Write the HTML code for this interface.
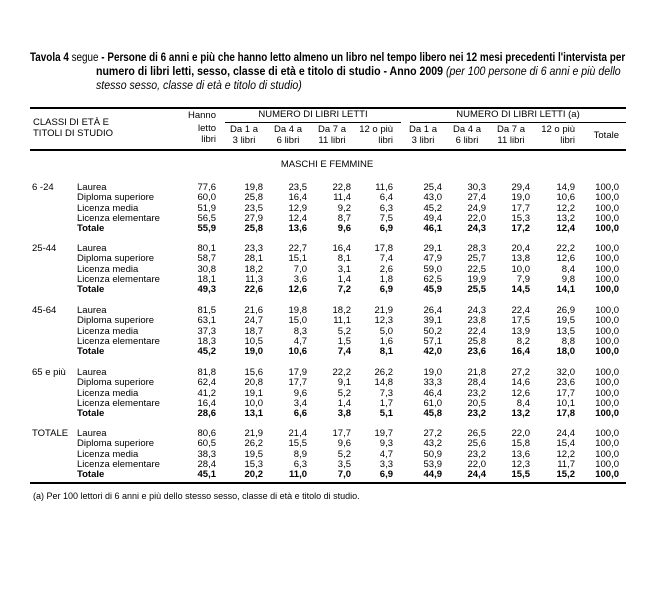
<!DOCTYPE html>
<html><head><meta charset="utf-8"><style>
body{margin:0;background:#fff;width:658px;height:614px;position:relative;font-family:"Liberation Sans",Arial,sans-serif;color:#000;overflow:hidden}
.t{position:absolute;font-size:9.5px;line-height:12px;white-space:nowrap}
.r{text-align:right}
.c{text-align:center}
.b{font-weight:bold}
.ti{position:absolute;font-family:"Liberation Sans Narrow","Liberation Sans",sans-serif;font-size:11.5px;font-weight:bold;white-space:nowrap;line-height:14px;transform:scaleX(0.86);transform-origin:0 0}
.ln{position:absolute;background:#000}
</style></head><body>
<div class="ti" style="left:30px;top:51px">Tavola 4 <span style="font-weight:normal">segue</span> - Persone di 6 anni e più che hanno letto almeno un libro nel tempo libero nei 12 mesi precedenti l'intervista per</div>
<div class="ti" style="left:96px;top:65px;transform:scaleX(0.92)">numero di libri letti, sesso, classe di età e titolo di studio - Anno 2009 <i style="font-weight:normal">(per 100 persone di 6 anni e più dello</i></div>
<div class="ti" style="left:96px;top:79px;font-weight:normal;transform:scaleX(0.92)"><i>stesso sesso, classe di età e titolo di studio)</i></div>

<div class="ln" style="left:30px;top:107px;width:596px;height:2px"></div>
<div class="ln" style="left:225px;top:122px;width:176px;height:1px"></div>
<div class="ln" style="left:410px;top:122px;width:216px;height:1px"></div>
<div class="ln" style="left:30px;top:149px;width:596px;height:2px"></div>
<div class="ln" style="left:30px;top:482px;width:596px;height:2px"></div>

<div class="t" style="left:33px;top:117px">CLASSI DI ETÀ E</div>
<div class="t" style="left:33px;top:128px">TITOLI DI STUDIO</div>
<div class="t r" style="left:176px;width:40px;top:110px">Hanno</div>
<div class="t r" style="left:176px;width:40px;top:123px">letto</div>
<div class="t r" style="left:176px;width:40px;top:134px">libri</div>
<div class="t c" style="left:225px;width:176px;top:109px">NUMERO DI LIBRI LETTI</div>
<div class="t c" style="left:410px;width:216px;top:109px">NUMERO DI LIBRI LETTI (a)</div>
<div id="hdr"></div>
<div class="t c" style="left:230px;width:194px;top:159px">MASCHI E FEMMINE</div>
<div id="data"></div>
<div class="t" style="left:33px;top:490px;font-size:9px">(a) Per 100 lettori di 6 anni e più dello stesso sesso, classe di età e titolo di studio.</div>
<script>
var R=[216,263,307,351,393,442,486,530,575,619];
var h1=["Da 1 a","Da 4 a","Da 7 a","12 o più","Da 1 a","Da 4 a","Da 7 a","12 o più"];
var h2=["3 libri","6 libri","11 libri","libri","3 libri","6 libri","11 libri","libri"];
var s="";
for(var i=0;i<8;i++){var x=R[i+1];
var al=(i==3||i==7)?"r":"c";
if(al=="r"){s+='<div class="t r" style="left:'+(x-50)+'px;width:50px;top:124px">'+h1[i]+'</div><div class="t r" style="left:'+(x-50)+'px;width:50px;top:135px">'+h2[i]+'</div>';}
else{s+='<div class="t c" style="left:'+(x-44)+'px;width:50px;top:124px">'+h1[i]+'</div><div class="t c" style="left:'+(x-44)+'px;width:50px;top:135px">'+h2[i]+'</div>';}}
s+='<div class="t r" style="left:569px;width:50px;top:130px">Totale</div>';
document.getElementById("hdr").innerHTML=s;
var G=[["6 -24",188,[[77.6,19.8,23.5,22.8,11.6,25.4,30.3,29.4,14.9],[60.0,25.8,16.4,11.4,6.4,43.0,27.4,19.0,10.6],[51.9,23.5,12.9,9.2,6.3,45.2,24.9,17.7,12.2],[56.5,27.9,12.4,8.7,7.5,49.4,22.0,15.3,13.2],[55.9,25.8,13.6,9.6,6.9,46.1,24.3,17.2,12.4]]],
["25-44",249,[[80.1,23.3,22.7,16.4,17.8,29.1,28.3,20.4,22.2],[58.7,28.1,15.1,8.1,7.4,47.9,25.7,13.8,12.6],[30.8,18.2,7.0,3.1,2.6,59.0,22.5,10.0,8.4],[18.1,11.3,3.6,1.4,1.8,62.5,19.9,7.9,9.8],[49.3,22.6,12.6,7.2,6.9,45.9,25.5,14.5,14.1]]],
["45-64",311,[[81.5,21.6,19.8,18.2,21.9,26.4,24.3,22.4,26.9],[63.1,24.7,15.0,11.1,12.3,39.1,23.8,17.5,19.5],[37.3,18.7,8.3,5.2,5.0,50.2,22.4,13.9,13.5],[18.3,10.5,4.7,1.5,1.6,57.1,25.8,8.2,8.8],[45.2,19.0,10.6,7.4,8.1,42.0,23.6,16.4,18.0]]],
["65 e più",373,[[81.8,15.6,17.9,22.2,26.2,19.0,21.8,27.2,32.0],[62.4,20.8,17.7,9.1,14.8,33.3,28.4,14.6,23.6],[41.2,19.1,9.6,5.2,7.3,46.4,23.2,12.6,17.7],[16.4,10.0,3.4,1.4,1.7,61.0,20.5,8.4,10.1],[28.6,13.1,6.6,3.8,5.1,45.8,23.2,13.2,17.8]]],
["TOTALE",434,[[80.6,21.9,21.4,17.7,19.7,27.2,26.5,22.0,24.4],[60.5,26.2,15.5,9.6,9.3,43.2,25.6,15.8,15.4],[38.3,19.5,8.9,5.2,4.7,50.9,23.2,13.6,12.2],[28.4,15.3,6.3,3.5,3.3,53.9,22.0,12.3,11.7],[45.1,20.2,11.0,7.0,6.9,44.9,24.4,15.5,15.2]]]];
var L=["Laurea","Diploma superiore","Licenza media","Licenza elementare","Totale"];
s="";
G.forEach(function(g){
 s+='<div class="t" style="left:32px;top:'+(g[1]-6)+'px">'+g[0]+'</div>';
 g[2].forEach(function(row,j){
  var y=g[1]-6+j*10.3, b=j==4?" b":"";
  s+='<div class="t'+b+'" style="left:77px;top:'+y+'px">'+L[j]+'</div>';
  row.concat([100]).forEach(function(v,k){
   s+='<div class="t r'+b+'" style="left:'+(R[k]-40)+'px;width:40px;top:'+y+'px">'+v.toFixed(1).replace(".",",")+'</div>';
  });
 });
});
document.getElementById("data").innerHTML=s;
</script>
</body></html>
